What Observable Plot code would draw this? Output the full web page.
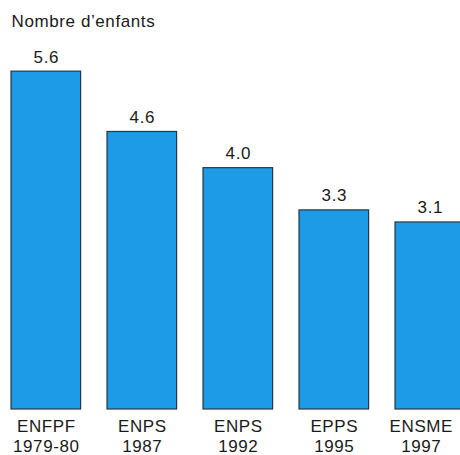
<!DOCTYPE html>
<html>
<head>
<meta charset="utf-8">
<script src="https://cdn.jsdelivr.net/npm/d3@7"></script>
<script src="https://cdn.jsdelivr.net/npm/@observablehq/plot@0.6"></script>
<style>
  html, body { margin: 0; padding: 0; background: #fff; overflow: hidden; }
  #chart svg { display: block; }
</style>
</head>
<body>
<div id="chart"></div>
<script>
const title = "Nombre d\u2019enfants";
const surveys = ["ENFPF", "ENPS", "ENPS", "EPPS", "ENSME"];
const years = ["1979-80", "1987", "1992", "1995", "1997"];
const values = [5.6, 4.6, 4.0, 3.3, 3.1];

const data = surveys.map((s, i) => ({ key: s + "\n" + years[i], value: values[i] }));
const keys = data.map(d => d.key);
const last = keys[keys.length - 1];

const font = "Liberation Sans, Arial, sans-serif";
const catOpts = {
  x: "key", y: () => 0, text: "key",
  lineAnchor: "top", dy: 8, lineHeight: 1.2, fontSize: 17, fill: "#1a1a1a", fontFamily: font
};

const chart = Plot.plot({
  width: 460,
  height: 455,
  margin: 0,
  style: { fontFamily: font, background: "#fff", color: "#1a1a1a", letterSpacing: "0.6px" },
  x: { type: "band", domain: keys, range: [-15.4, 491], padding: 0.275, round: false, axis: null },
  y: { domain: [0, 6], range: [409, 47], axis: null },
  marks: [
    Plot.barY(data, { x: "key", y: "value", fill: "#1e9be6", stroke: "#2b3640", strokeWidth: 1.2 }),
    Plot.text(data, {
      x: "key", y: "value", text: d => d3.format(".1f")(d.value),
      lineAnchor: "bottom", dy: -9, fontSize: 17, fill: "#1a1a1a", fontFamily: font
    }),
    Plot.text(data, { ...catOpts, filter: d => d.key !== last }),
    Plot.text(data, { ...catOpts, filter: d => d.key === last, dx: -9 }),
    Plot.text([title], {
      frameAnchor: "top-left", text: d => d, textAnchor: "start", lineAnchor: "top",
      dx: 11, dy: 14, fontSize: 17, fill: "#1a1a1a", fontFamily: font
    })
  ]
});
document.getElementById("chart").appendChild(chart);
</script>
</body>
</html>
